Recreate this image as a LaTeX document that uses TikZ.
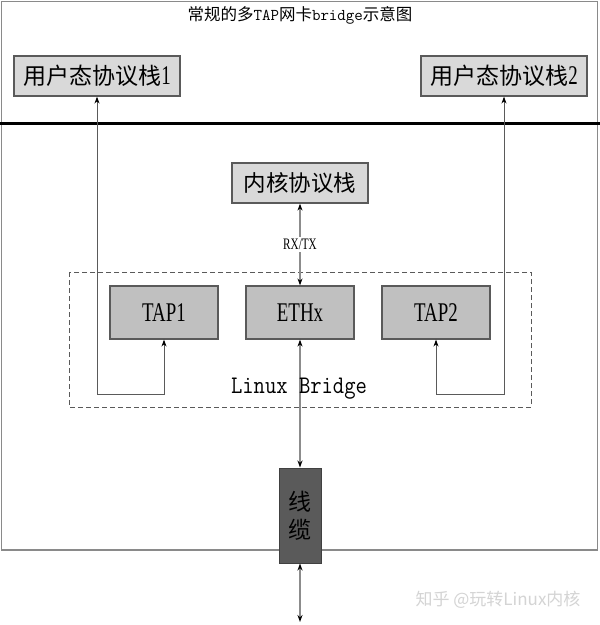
\documentclass[tikz,border=0pt]{standalone}
\usepackage{fontspec}
\setmainfont{Liberation Serif}
\newfontfamily\cjk{Noto Sans CJK SC}
\newfontfamily\narrowserif[FakeStretch=0.7]{Liberation Serif}
\usetikzlibrary{arrows.meta}
\newcommand\pxsize[1]{\fontsize{#1}{#1}\selectfont}
\definecolor{framegray}{HTML}{8A8A8A}
\definecolor{boxline}{HTML}{5A5A5A}
\definecolor{lightfill}{HTML}{D9D9D9}
\definecolor{tapfill}{HTML}{C0C0C0}
\definecolor{cablefill}{HTML}{5A5A5A}
\definecolor{midgray}{HTML}{8C8C8C}
\definecolor{wmgray}{HTML}{D4D4D4}
\begin{document}
\begin{tikzpicture}[x=1pt,y=-1pt,
  tip/.tip={Stealth[length=7pt,width=5pt,color=black]},
  lightbox/.style={draw=boxline, fill=lightfill, line width=1.2pt, inner sep=0pt, minimum height=40pt, font=\cjk\pxsize{23}},
  tapbox/.style={draw=boxline, fill=tapfill, line width=1.2pt, inner sep=0pt, minimum width=108pt, minimum height=53pt, font=\narrowserif\pxsize{27}},
  sideconn/.style={draw=boxline, line width=0.9pt, {tip}-{tip}},
  midconn/.style={draw=midgray, line width=2pt, {tip}-{tip}}
]
\useasboundingbox (0,0) rectangle (600,625);
\fill[white] (0,0) rectangle (600,625);
% frame
\draw[framegray, line width=1.5pt] (1.5,1.5) rectangle (597.5,550);
\draw[black, line width=3pt] (0,123) -- (600,123);
% title
\node[font=\cjk\pxsize{16.5}, inner sep=0pt] (title) at (300,15) {常规的多{\ttfamily TAP}网卡{\ttfamily bridge}示意图};
% user boxes
\node[lightbox, minimum width=166pt] (u1) at (97,76) {用户态协议栈{\narrowserif\pxsize{27}1}};
\node[lightbox, minimum width=166pt] (u2) at (504,76) {用户态协议栈{\narrowserif\pxsize{27}2}};
% kernel
\node[lightbox, minimum width=136pt, font=\cjk\pxsize{22.5}] (kernel) at (300,183) {内核协议栈};
% bridge
\draw[boxline, line width=0.9pt, dash pattern=on 5pt off 3pt] (69,272) rectangle (531,407);
\node[tapbox] (tap1) at (164,312.5) {TAP1};
\node[tapbox] (eth) at (300,312.5) {ETHx};
\node[tapbox] (tap2) at (436,312.5) {TAP2};
% cable
\node[draw=black!75, fill=cablefill, line width=1pt, minimum width=42pt, minimum height=95pt, inner sep=0pt, align=center, font=\cjk\pxsize{23}] (cable) at (300,515.5) {线\\[5pt]缆};
% side connectors
\coordinate (l1) at (97,394);
\coordinate (r1) at (504,394);
\draw[sideconn] (u1.south) -- (l1) -| (tap1.south);
\draw[sideconn] (u2.south) -- (r1) -| (tap2.south);
% middle connectors
\draw[midconn] (kernel.south) -- (eth.north) node[midway, fill=white, inner sep=2pt, text=black, font=\narrowserif\pxsize{16}] {RX/TX};
\draw[midconn] (eth.south) -- (cable.north);
\coordinate (bot) at (300,622);
\draw[midconn] (cable.south) -- (bot);
% bridge label
\node[font=\ttfamily\pxsize{22}, inner sep=0pt, yscale=1.15] (lb) at (299,389) {Linux Bridge};
% watermark
\node[font=\cjk\pxsize{17}, text=wmgray, inner sep=0pt] (wm) at (498,600) {知乎 @玩转Linux内核};
\end{tikzpicture}
\end{document}
